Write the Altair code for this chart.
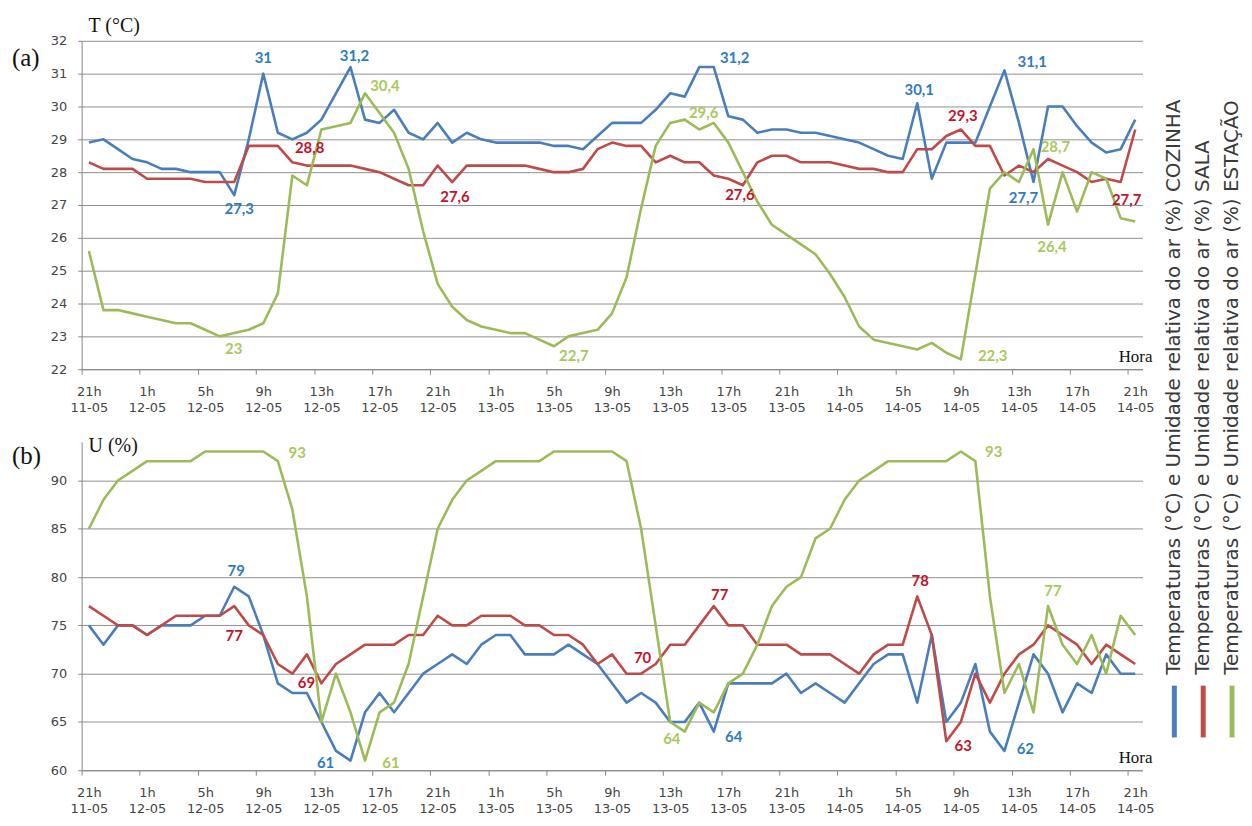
import json
import altair as alt
import pandas as pd

# ---------------- data ----------------
HOUR_INDEX = list(range(73))  # hourly, 21h 11-05 ... 21h 14-05
TICK_HOURS = ["21h", "1h", "5h", "9h", "13h", "17h", "21h", "1h", "5h", "9h",
              "13h", "17h", "21h", "1h", "5h", "9h", "13h", "17h", "21h"]
TICK_DATES = ["11-05", "12-05", "12-05", "12-05", "12-05", "12-05", "12-05", "13-05",
              "13-05", "13-05", "13-05", "13-05", "13-05", "14-05", "14-05", "14-05",
              "14-05", "14-05", "14-05"]
SERIES_KEYS = ["COZINHA", "SALA", "ESTACAO"]
LEGEND_LABELS = [
    "Temperaturas (°C) e Umidade relativa do ar (%) COZINHA",
    "Temperaturas (°C) e Umidade relativa do ar (%) SALA",
    "Temperaturas (°C) e Umidade relativa do ar (%) ESTAÇÃO",
]

T_COZINHA = [28.9, 29.0, 28.7, 28.4, 28.3, 28.1, 28.1, 28.0, 28.0, 28.0, 27.3, 29.0, 31.0,
             29.2, 29.0, 29.2, 29.6, 30.4, 31.2, 29.6, 29.5, 29.9, 29.2, 29.0, 29.5, 28.9,
             29.2, 29.0, 28.9, 28.9, 28.9, 28.9, 28.8, 28.8, 28.7, 29.1, 29.5, 29.5, 29.5,
             29.9, 30.4, 30.3, 31.2, 31.2, 29.7, 29.6, 29.2, 29.3, 29.3, 29.2, 29.2, 29.1,
             29.0, 28.9, 28.7, 28.5, 28.4, 30.1, 27.8, 28.9, 28.9, 28.9, 30.0, 31.1, 29.5,
             27.7, 30.0, 30.0, 29.4, 28.9, 28.6, 28.7, 29.6]
T_SALA = [28.3, 28.1, 28.1, 28.1, 27.8, 27.8, 27.8, 27.8, 27.7, 27.7, 27.7, 28.8, 28.8,
          28.8, 28.3, 28.2, 28.2, 28.2, 28.2, 28.1, 28.0, 27.8, 27.6, 27.6, 28.2, 27.7,
          28.2, 28.2, 28.2, 28.2, 28.2, 28.1, 28.0, 28.0, 28.1, 28.7, 28.9, 28.8, 28.8,
          28.3, 28.5, 28.3, 28.3, 27.9, 27.8, 27.6, 28.3, 28.5, 28.5, 28.3, 28.3, 28.3,
          28.2, 28.1, 28.1, 28.0, 28.0, 28.7, 28.7, 29.1, 29.3, 28.8, 28.8, 27.9, 28.2,
          28.0, 28.4, 28.2, 28.0, 27.7, 27.8, 27.7, 29.3]
T_ESTACAO = [25.6, 23.8, 23.8, 23.7, 23.6, 23.5, 23.4, 23.4, 23.2, 23.0, 23.1, 23.2, 23.4,
             24.3, 27.9, 27.6, 29.3, 29.4, 29.5, 30.4, 29.8, 29.2, 28.1, 26.2, 24.6, 23.9,
             23.5, 23.3, 23.2, 23.1, 23.1, 22.9, 22.7, 23.0, 23.1, 23.2, 23.7, 24.8, 26.9,
             28.8, 29.5, 29.6, 29.3, 29.5, 28.9, 28.0, 27.1, 26.4, 26.1, 25.8, 25.5, 24.9,
             24.2, 23.3, 22.9, 22.8, 22.7, 22.6, 22.8, 22.5, 22.3, 24.9, 27.5, 28.0, 27.7,
             28.7, 26.4, 28.0, 26.8, 28.0, 27.8, 26.6, 26.5]

U_COZINHA = [75, 73, 75, 75, 74, 75, 75, 75, 76, 76, 79, 78, 74, 69, 68, 68, 65, 62, 61,
             66, 68, 66, 68, 70, 71, 72, 71, 73, 74, 74, 72, 72, 72, 73, 72, 71, 69, 67,
             68, 67, 65, 65, 67, 64, 69, 69, 69, 69, 70, 68, 69, 68, 67, 69, 71, 72, 72,
             67, 74, 65, 67, 71, 64, 62, 67, 72, 70, 66, 69, 68, 72, 70, 70]
U_SALA = [77, 76, 75, 75, 74, 75, 76, 76, 76, 76, 77, 75, 74, 71, 70, 72, 69, 71, 72,
          73, 73, 73, 74, 74, 76, 75, 75, 76, 76, 76, 75, 75, 74, 74, 73, 71, 72, 70,
          70, 71, 73, 73, 75, 77, 75, 75, 73, 73, 73, 72, 72, 72, 71, 70, 72, 73, 73,
          78, 74, 63, 65, 70, 67, 70, 72, 73, 75, 74, 73, 71, 73, 72, 71]
U_ESTACAO = [85, 88, 90, 91, 92, 92, 92, 92, 93, 93, 93, 93, 93, 92, 87, 78, 65, 70, 66,
             61, 66, 67, 71, 78, 85, 88, 90, 91, 92, 92, 92, 92, 93, 93, 93, 93, 93, 92,
             85, 75, 65, 64, 67, 66, 69, 70, 73, 77, 79, 80, 84, 85, 88, 90, 91, 92, 92,
             92, 92, 92, 93, 92, 78, 68, 71, 66, 77, 73, 71, 74, 70, 76, 74]

T_TICKS = list(range(22, 33))
U_TICKS = [60, 65, 70, 75, 80, 85, 90]

# ---------------- styling ----------------
LINE_COLORS = {"COZINHA": "#4a7ebb", "SALA": "#be4b48", "ESTACAO": "#9bbb59"}
LABEL_COLORS = {"COZINHA": "#2f7bbf", "SALA": "#c0142a", "ESTACAO": "#a8c85c"}
AXIS_COLOR = "#868686"
GRID_COLOR = "#8f8f8f"
TICK_FONT = "DejaVu Sans"
TICK_COLOR = "#444444"
SERIF = "Liberation Serif"

W, H = 1066, 330
HALF_CAT = W / 73 / 2

# data labels: (series, hour index, dx, dy)
T_ANNOTS = [
    ("COZINHA", 12, 0, -16), ("COZINHA", 18, 4, -11), ("COZINHA", 10, 5, 14),
    ("SALA", 13, 32, 2), ("ESTACAO", 19, 20, -7), ("SALA", 23, 32, 12),
    ("ESTACAO", 9, 14, 13), ("ESTACAO", 32, 20, 10), ("ESTACAO", 41, 19, -7),
    ("COZINHA", 43, 21, -9), ("SALA", 45, -3, 10), ("COZINHA", 57, 2, -13),
    ("SALA", 60, 2, -14), ("COZINHA", 63, 28, -8), ("ESTACAO", 65, 22, -2),
    ("COZINHA", 65, -10, 16), ("ESTACAO", 66, 4, 22), ("SALA", 71, 6, 18),
    ("ESTACAO", 60, 32, -3),
]
U_ANNOTS = [
    ("COZINHA", 10, 2, -16), ("SALA", 10, 0, 30), ("SALA", 16, -15, 0),
    ("ESTACAO", 12, 34, 2), ("COZINHA", 18, -25, 2), ("ESTACAO", 19, 26, 2),
    ("SALA", 37, 16, -16), ("SALA", 43, 6, -11), ("ESTACAO", 41, -13, 7),
    ("COZINHA", 43, 20, 5), ("SALA", 57, 3, -15), ("ESTACAO", 60, 33, 1),
    ("SALA", 59, 17, 5), ("COZINHA", 63, 21, -2), ("ESTACAO", 66, 5, -15),
]

# ---------------- table ----------------
rows = []
for key, tv, uv in zip(SERIES_KEYS, [T_COZINHA, T_SALA, T_ESTACAO],
                       [U_COZINHA, U_SALA, U_ESTACAO]):
    for h, t, u in zip(HOUR_INDEX, tv, uv):
        rows.append({"hora": h, "serie": key, "T": t, "U": u})
df = pd.DataFrame(rows)

LABEL_EXPR = ("[" + json.dumps(TICK_HOURS) + "[datum.value / 4], "
              + json.dumps(TICK_DATES) + "[datum.value / 4]]")


def one(text):
    return alt.Chart(pd.DataFrame({"t": [text]}))


def panel(field, domain, ticks, annots, unit_title, letter, letter_y, unit_y, legend=False):
    xenc = alt.X(
        "hora:Q",
        scale=alt.Scale(domain=[-0.5, 72.5], nice=False, zero=False),
        axis=alt.Axis(values=list(range(0, 73, 4)), labelExpr=LABEL_EXPR, grid=False,
                      tickOffset=-HALF_CAT, labelOffset=HALF_CAT, tickSize=5,
                      tickColor=AXIS_COLOR, domainColor=AXIS_COLOR, labelFont=TICK_FONT,
                      labelFontSize=13, labelColor=TICK_COLOR, labelLineHeight=16,
                      labelPadding=11, labelAngle=0, labelOverlap=False, labelFlush=False,
                      title=None),
    )
    yenc = alt.Y(
        f"{field}:Q",
        scale=alt.Scale(domain=domain, nice=False, zero=False),
        axis=alt.Axis(values=ticks, grid=True, gridColor=GRID_COLOR, gridWidth=1,
                      tickSize=4, tickColor=AXIS_COLOR, domainColor=AXIS_COLOR,
                      labelFont=TICK_FONT, labelFontSize=13, labelColor=TICK_COLOR,
                      labelPadding=11, format="d", title=None),
    )
    base = alt.Chart(df)
    layers = []
    for key in SERIES_KEYS:
        layers.append(
            base.transform_filter(alt.datum.serie == key)
            .mark_line(color=LINE_COLORS[key], strokeWidth=2.6, strokeJoin="round")
            .encode(x=xenc, y=yenc)
        )
    lab_expr = (f"datum['{field}'] % 1 == 0 ? format(datum['{field}'], 'd') : "
                f"replace(format(datum['{field}'], '.1f'), '.', ',')")
    for key, idx, dx, dy in annots:
        layers.append(
            base.transform_filter((alt.datum.serie == key) & (alt.datum.hora == idx))
            .transform_calculate(lab=lab_expr)
            .mark_text(dx=dx, dy=dy, color=LABEL_COLORS[key], font="Lato",
                       fontWeight="bold", fontSize=15, baseline="middle", align="center")
            .encode(x=xenc, y=yenc, text="lab:N")
        )
    layers.append(one(letter).mark_text(font=SERIF, fontSize=25, align="left",
                                        baseline="middle", color="#111111")
                  .encode(x=alt.value(-70), y=alt.value(letter_y), text="t:N"))
    layers.append(one(unit_title).mark_text(font=SERIF, fontSize=20, align="left",
                                            baseline="middle", color="#111111")
                  .encode(x=alt.value(7), y=alt.value(unit_y), text="t:N"))
    layers.append(one("Hora").mark_text(font=SERIF, fontSize=17, align="center",
                                        baseline="middle", color="#111111")
                  .encode(x=alt.value(1059), y=alt.value(H - 12), text="t:N"))
    if legend:
        for k, (key, txt) in enumerate(zip(SERIES_KEYS, LEGEND_LABELS)):
            xpos = 1098 + 29 * k
            layers.append(one(txt).mark_text(font="DejaVu Sans", fontSize=20,
                                             angle=270, align="left", baseline="middle",
                                             color="#3a3a3a")
                          .encode(x=alt.value(xpos), y=alt.value(234), text="t:N"))
            layers.append(one(txt).mark_rule(color=LINE_COLORS[key], strokeWidth=5)
                          .encode(x=alt.value(xpos), y=alt.value(245), y2=alt.value(297)))
    return alt.layer(*layers).properties(width=W, height=H)


top = panel("T", [22, 32], T_TICKS, T_ANNOTS, "T (°C)", "(a)", 17, -15)
bottom = panel("U", [60, 94], U_TICKS, U_ANNOTS, "U (%)", "(b)", 14, 4, legend=True)

chart = (
    alt.vconcat(top, bottom, spacing=73, bounds="flush")
    .properties(padding={"left": 4, "top": 6, "right": 2, "bottom": 0},
                background="white")
    .configure_view(stroke=None)
)

chart.save("out.html", embed_options={"renderer": "svg", "actions": False})
